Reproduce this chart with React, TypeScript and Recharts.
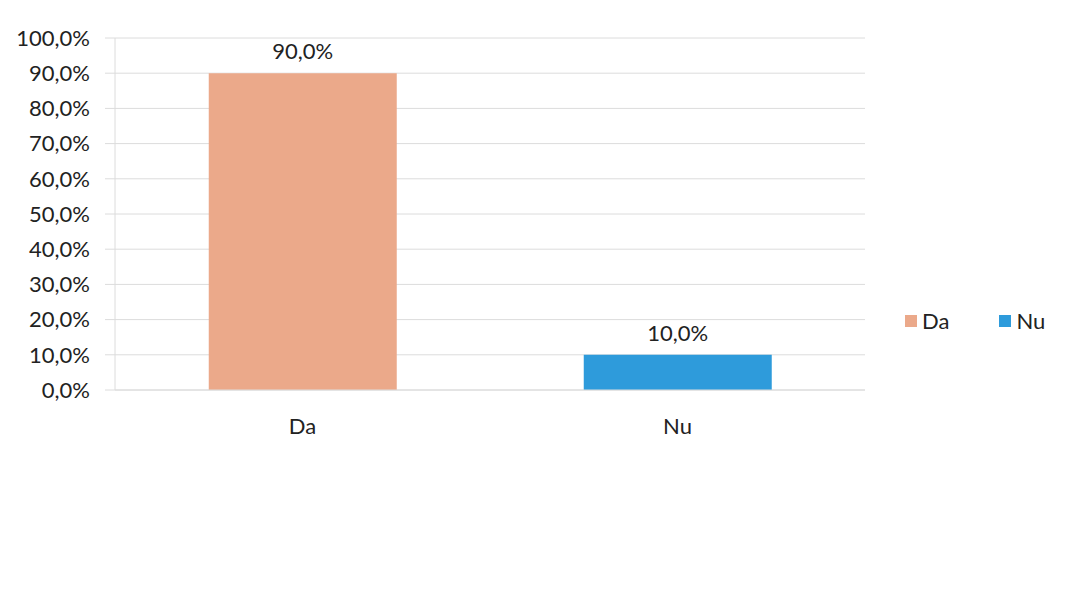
import React from 'react';
import { BarChart, Bar, XAxis, YAxis, CartesianGrid, LabelList, Cell } from 'recharts';

const categories = ['Da', 'Nu'];
const percentages = [90, 10];
const barColors = ['#EBA98A', '#2E9BDB'];
const yTicks = [0, 10, 20, 30, 40, 50, 60, 70, 80, 90, 100];

const data = categories.map((name, i) => ({ name, value: percentages[i] }));

const fmt = (v: any) => `${Number(v).toFixed(1).replace('.', ',')}%`;
const FONT = "Lato, 'Open Sans', sans-serif";
const FS = 22;

// legend drawn as an overlay so it doesn't eat into the plot area
const LegendBox = () => (
  <div
    style={{
      position: 'absolute',
      left: 905,
      top: 307,
      display: 'flex',
      fontFamily: FONT,
      fontSize: FS,
      color: '#222',
    }}
  >
    {categories.map((c, i) => (
      <div key={c} style={{ display: 'flex', alignItems: 'center', marginRight: 50 }}>
        <span style={{ width: 12, height: 12, background: barColors[i], marginRight: 5, display: 'inline-block' }} />
        {c}
      </div>
    ))}
  </div>
);

export default function App() {
  return (
    <div style={{ position: 'absolute', left: 0, top: 0, width: 1082, height: 612, background: '#fff' }}>
      <BarChart
        width={1082}
        height={612}
        data={data}
        margin={{ top: 38, right: 217, left: 0, bottom: 192 }}
        barCategoryGap="25%"
      >
        <CartesianGrid vertical={false} stroke="#dcdcdc" />
        <YAxis
          domain={[0, 100]}
          ticks={yTicks}
          width={115}
          tickFormatter={fmt}
          tickSize={10}
          tickMargin={15}
          tickLine={{ stroke: '#dcdcdc' }}
          axisLine={{ stroke: '#dcdcdc' }}
          tick={{ fill: '#222', fontSize: FS, fontFamily: FONT }}
          interval={0}
        />
        <XAxis
          dataKey="name"
          height={30}
          axisLine={{ stroke: '#dcdcdc' }}
          tickLine={false}
          tickMargin={22}
          tick={{ fill: '#222', fontSize: FS, fontFamily: FONT }}
        />
        <Bar dataKey="value" isAnimationActive={false}>
          {data.map((d, i) => (
            <Cell key={d.name} fill={barColors[i]} />
          ))}
          <LabelList
            dataKey="value"
            position="top"
            offset={14}
            formatter={fmt}
            style={{ fill: '#222', fontSize: FS, fontFamily: FONT }}
          />
        </Bar>
      </BarChart>
      <LegendBox />
    </div>
  );
}
